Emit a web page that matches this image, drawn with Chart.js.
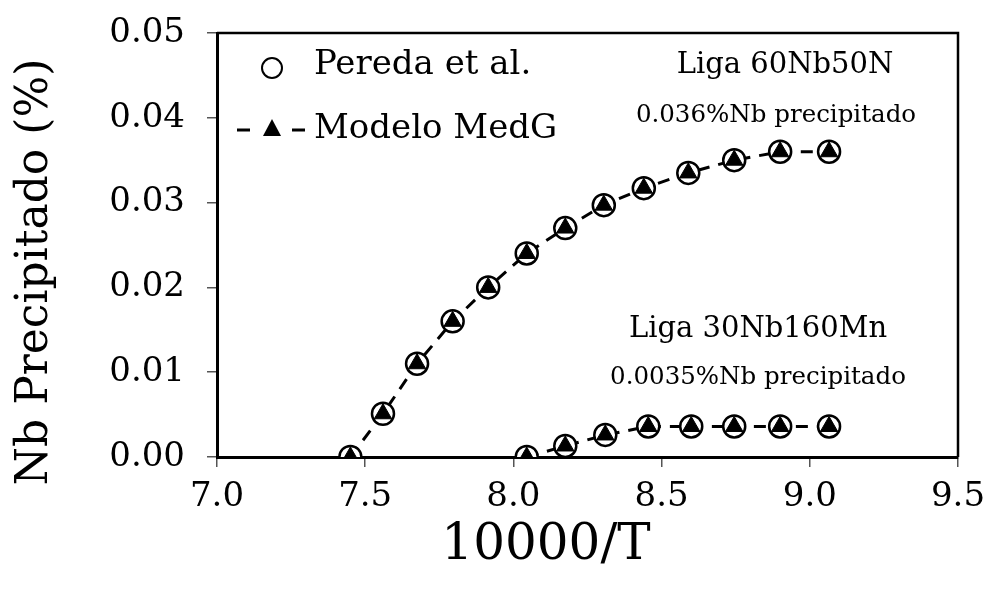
<!DOCTYPE html>
<html>
<head>
<meta charset="utf-8">
<script src="https://cdn.jsdelivr.net/npm/chart.js@4.4.0/dist/chart.umd.min.js"></script>
<style>
  body { margin: 0; background: #fff; }
  #wrap { width: 990px; height: 592px; }
</style>
</head>
<body>
<div id="wrap"><canvas id="myChart" width="990" height="592"></canvas></div>
<script>
// Liga 60Nb50N
const x60 = [7.45, 7.56, 7.675, 7.795, 7.915, 8.045, 8.175, 8.305, 8.44, 8.59, 8.745, 8.9, 9.065];
const pereda60 = [0, 0.0051, 0.011, 0.016, 0.02, 0.024, 0.027, 0.0297, 0.0317, 0.0335, 0.035, 0.036, 0.036];
const modelo60 = [0, 0.0051, 0.011, 0.016, 0.02, 0.024, 0.027, 0.0297, 0.0317, 0.0335, 0.035, 0.036, 0.036];

// Liga 30Nb160Mn
const x30 = [8.045, 8.175, 8.31, 8.455, 8.6, 8.745, 8.9, 9.065];
const pereda30 = [0, 0.0013, 0.0026, 0.0036, 0.0036, 0.0036, 0.0036, 0.0036];
const modelo30 = [0, 0.0013, 0.0026, 0.0036, 0.0036, 0.0036, 0.0036, 0.0036];

const xTicks = [7.0, 7.5, 8.0, 8.5, 9.0, 9.5];
const yTicks = [0, 0.01, 0.02, 0.03, 0.04, 0.05];

const FONT = "'DejaVu Serif', 'Liberation Serif', serif";

const toPts = (xs, ys) => xs.map((x, i) => ({ x: x, y: ys[i] }));

const lineDs = (xs, ys) => ({
  data: toPts(xs, ys),
  showLine: true,
  borderColor: "#000",
  borderWidth: 3,
  borderDash: [12, 9],
  pointRadius: 0,
  order: 3,
});

const circleDs = (xs, ys) => ({
  data: toPts(xs, ys),
  showLine: false,
  pointStyle: "circle",
  pointRadius: 11,
  pointBorderWidth: 2.5,
  pointBorderColor: "#000",
  pointBackgroundColor: "#fff",
  order: 2,
});

const triDs = (xs, ys) => ({
  data: toPts(xs, ys),
  showLine: false,
  pointStyle: "triangle",
  pointRadius: 10,
  pointBorderWidth: 1,
  pointBorderColor: "#000",
  pointBackgroundColor: "#000",
  order: 1,
});

// caixa, titulos, legenda e textos
const extras = {
  id: "extras",
  afterDraw(chart) {
    const ctx = chart.ctx;
    const a = chart.chartArea;
    ctx.save();
    ctx.strokeStyle = "#000";
    ctx.lineWidth = 2.5;
    ctx.beginPath();
    ctx.moveTo(a.left, a.top);
    ctx.lineTo(a.right, a.top);
    ctx.lineTo(a.right, a.bottom);
    ctx.stroke();

    ctx.fillStyle = "#000";
    ctx.textBaseline = "middle";

    // legenda
    ctx.beginPath();
    ctx.lineWidth = 2;
    ctx.arc(272, 68, 10, 0, Math.PI * 2);
    ctx.stroke();
    ctx.lineWidth = 3;
    ctx.beginPath();
    ctx.moveTo(237, 130); ctx.lineTo(250, 130);
    ctx.moveTo(292, 130); ctx.lineTo(305, 130);
    ctx.stroke();
    ctx.beginPath();
    ctx.moveTo(272, 119); ctx.lineTo(281, 136); ctx.lineTo(263, 136);
    ctx.closePath();
    ctx.fill();

    ctx.font = "34px " + FONT;
    ctx.textAlign = "left";
    ctx.fillText("Pereda et al.", 314, 65);
    ctx.fillText("Modelo MedG", 314, 129);

    ctx.textAlign = "center";
    ctx.font = "29px " + FONT;
    ctx.fillText("Liga 60Nb50N", 785, 65);
    ctx.fillText("Liga 30Nb160Mn", 758, 329);
    ctx.font = "24.5px " + FONT;
    ctx.fillText("0.036%Nb precipitado", 776, 116);
    ctx.fillText("0.0035%Nb precipitado", 758, 378);

    // titulos dos eixos
    ctx.font = "50px " + FONT;
    ctx.fillText("10000/T", 546, 546);
    ctx.translate(36, 272);
    ctx.rotate(-Math.PI / 2);
    ctx.font = "44px " + FONT;
    ctx.fillText("Nb Precipitado (%)", 0, 0);
    ctx.restore();
  },
};

function createChart() {
  const ctx = document.getElementById("myChart").getContext("2d");
  new Chart(ctx, {
    type: "scatter",
    data: {
      datasets: [
        lineDs(x60, modelo60),
        lineDs(x30, modelo30),
        circleDs(x60, pereda60),
        circleDs(x30, pereda30),
        triDs(x60, modelo60),
        triDs(x30, modelo30),
      ],
    },
    options: {
      responsive: false,
      animation: false,
      layout: { padding: { left: 0, top: 33, right: 32, bottom: 0 } },
      plugins: { legend: { display: false }, tooltip: { enabled: false } },
      scales: {
        x: {
          type: "linear",
          min: 7.0,
          max: 9.5,
          afterBuildTicks: (s) => { s.ticks = xTicks.map((v) => ({ value: v })); },
          afterFit: (s) => { s.height = 135; s.paddingLeft = 0; s.paddingRight = 0; },
          ticks: {
            color: "#000",
            font: { family: FONT, size: 34 },
            padding: 10,
            callback: (v) => v.toFixed(1),
          },
          grid: { drawOnChartArea: false, tickLength: 10, color: "#555", lineWidth: 1.5 },
          border: { color: "#000", width: 3 },
        },
        y: {
          type: "linear",
          min: 0,
          max: 0.05,
          afterBuildTicks: (s) => { s.ticks = yTicks.map((v) => ({ value: v })); },
          afterFit: (s) => { s.width = 217; s.paddingTop = 0; s.paddingBottom = 0; },
          ticks: {
            color: "#000",
            font: { family: FONT, size: 34 },
            padding: 22,
            callback: (v) => v.toFixed(2),
          },
          grid: { drawOnChartArea: false, tickLength: 10, color: "#555", lineWidth: 1.5 },
          border: { color: "#000", width: 3 },
        },
      },
    },
    plugins: [extras],
  });
}

document.addEventListener("DOMContentLoaded", () => {
  createChart();
});
</script>
</body>
</html>
